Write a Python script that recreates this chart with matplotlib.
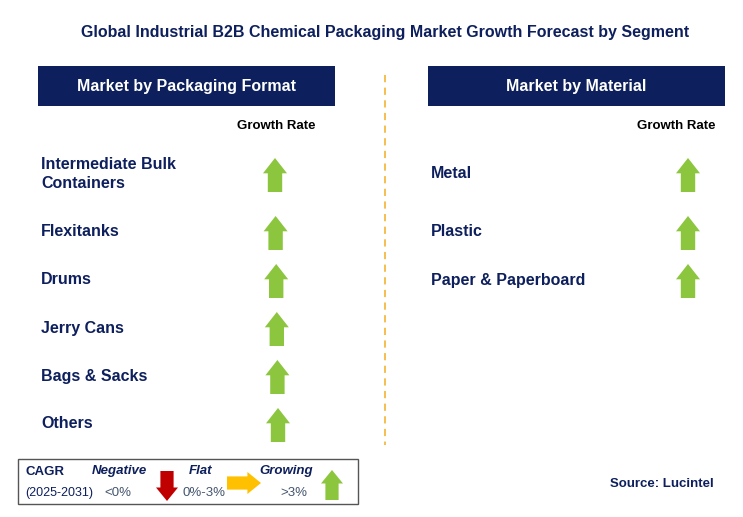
import matplotlib
matplotlib.use("Agg")
import matplotlib.pyplot as plt
from matplotlib.patches import Rectangle, Polygon

plt.rcParams["font.family"] = "Liberation Sans"

title = "Global Industrial B2B Chemical Packaging Market Growth Forecast by Segment"
format_segments = ["Intermediate Bulk\nContainers", "Flexitanks", "Drums", "Jerry Cans", "Bags & Sacks", "Others"]
format_trend = ["up", "up", "up", "up", "up", "up"]
material_segments = ["Metal", "Plastic", "Paper & Paperboard"]
material_trend = ["up", "up", "up"]

NAVY = "#0d1f5c"
GREEN = "#8cc63f"
RED = "#c00000"
ORANGE = "#ffc000"

fig = plt.figure(figsize=(7.43, 5.17), dpi=100)
ax = fig.add_axes([0, 0, 1, 1])
ax.set_xlim(0, 743)
ax.set_ylim(517, 0)
ax.axis("off")


def arrow(cx, cy, kind, w=24, h=34):
    # simple block arrow in pixel coords
    s = 0.3
    if kind == "up":
        pts = [(cx - w / 2, cy - h / 2 + h * 0.45), (cx, cy - h / 2), (cx + w / 2, cy - h / 2 + h * 0.45),
               (cx + w * s, cy - h / 2 + h * 0.45), (cx + w * s, cy + h / 2),
               (cx - w * s, cy + h / 2), (cx - w * s, cy - h / 2 + h * 0.45)]
        col = GREEN
    elif kind == "down":
        pts = [(cx - w / 2, cy + h / 2 - h * 0.45), (cx, cy + h / 2), (cx + w / 2, cy + h / 2 - h * 0.45),
               (cx + w * s, cy + h / 2 - h * 0.45), (cx + w * s, cy - h / 2),
               (cx - w * s, cy - h / 2), (cx - w * s, cy + h / 2 - h * 0.45)]
        col = RED
    else:
        pts = [(cx + w / 2, cy), (cx + w / 2 - w * 0.4, cy - h / 2), (cx + w / 2 - w * 0.4, cy - h * s),
               (cx - w / 2, cy - h * s), (cx - w / 2, cy + h * s),
               (cx + w / 2 - w * 0.4, cy + h * s), (cx + w / 2 - w * 0.4, cy + h / 2)]
        col = ORANGE
    ax.add_patch(Polygon(pts, closed=True, color=col, lw=0))


ax.text(385, 32, title, ha="center", va="center", fontsize=11.5, fontweight="bold", color=NAVY)

# headers
for x0, w, lab in [(38, 297, "Market by Packaging Format"), (428, 297, "Market by Material")]:
    ax.add_patch(Rectangle((x0, 66), w, 40, color=NAVY, lw=0))
    ax.text(x0 + w / 2, 87, lab, ha="center", va="center", fontsize=11.5, fontweight="bold", color="white")

ax.plot([385, 385], [75, 445], color="#f5b942", lw=1.3, ls=(0, (4, 3)))

ax.text(276, 126, "Growth Rate", ha="center", va="center", fontsize=9.5, fontweight="bold", color="black")
ax.text(676, 126, "Growth Rate", ha="center", va="center", fontsize=9.5, fontweight="bold", color="black")

left_y = [174, 232, 280, 328, 376, 424]
for i, (seg, tr) in enumerate(zip(format_segments, format_trend)):
    ax.text(41, left_y[i], seg, ha="left", va="center", fontsize=11.5, fontweight="bold",
            color=NAVY, linespacing=1.4)
    arrow(275 + i * 0.6, left_y[i] + 1, tr)

right_y = [174, 232, 280]
for i, (seg, tr) in enumerate(zip(material_segments, material_trend)):
    ax.text(431, right_y[i], seg, ha="left", va="center", fontsize=11.5, fontweight="bold", color=NAVY)
    arrow(688, right_y[i] + 1, tr)

# legend box
ax.add_patch(Rectangle((18, 459), 340, 45, fill=False, ec="#555555", lw=1))
ax.text(25, 472, "CAGR", ha="left", va="center", fontsize=9.5, fontweight="bold", color=NAVY)
ax.text(25, 493, "(2025-2031)", ha="left", va="center", fontsize=9, color=NAVY)
ax.text(119, 471, "Negative", ha="center", va="center", fontsize=9.5, fontweight="bold", style="italic", color=NAVY)
ax.text(118, 493, "<0%", ha="center", va="center", fontsize=9.5, color="#44556e")
arrow(167, 486, "down", w=22, h=30)
ax.text(201, 471, "Flat", ha="center", va="center", fontsize=9.5, fontweight="bold", style="italic", color=NAVY)
ax.text(204, 493, "0%-3%", ha="center", va="center", fontsize=9.5, color="#44556e")
arrow(244, 483, "flat", w=34, h=22)
ax.text(286, 471, "Growing", ha="center", va="center", fontsize=9.5, fontweight="bold", style="italic", color=NAVY)
ax.text(294, 493, ">3%", ha="center", va="center", fontsize=9.5, color="#44556e")
arrow(332, 485, "up", w=22, h=30)

ax.text(714, 484, "Source: Lucintel", ha="right", va="center", fontsize=9.5, fontweight="bold", color=NAVY)

fig.savefig("out.png", dpi=100)
